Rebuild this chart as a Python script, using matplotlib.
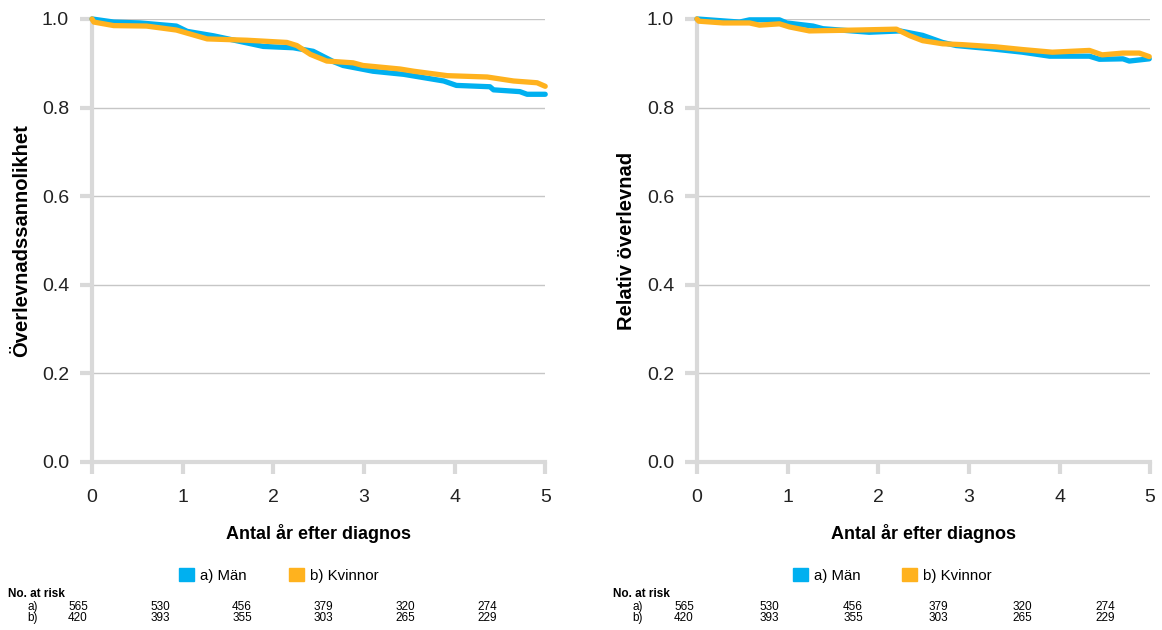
import numpy as np
import matplotlib
matplotlib.use("Agg")
import matplotlib.pyplot as plt
from matplotlib.patches import Patch

plt.rcParams["font.family"] = ["Liberation Sans", "DejaVu Sans"]

# === DATA ===
# left panel: Överlevnadssannolikhet
men_obs_t = [0, 0.24, 0.53, 0.93, 1.05, 1.34, 1.89, 2.22, 2.44, 2.66, 2.77, 3.1, 3.44, 3.88, 4.02, 4.39, 4.43, 4.72, 4.8, 5.0]
men_obs_s = [1.0, 0.993, 0.991, 0.984, 0.972, 0.962, 0.938, 0.935, 0.927, 0.904, 0.895, 0.882, 0.875, 0.86, 0.85, 0.847, 0.84, 0.836, 0.83, 0.83]
wom_obs_t = [0, 0.02, 0.24, 0.6, 0.93, 1.27, 1.71, 2.15, 2.26, 2.41, 2.59, 2.88, 2.99, 3.4, 3.55, 3.92, 4.36, 4.65, 4.91, 5.0]
wom_obs_s = [1.0, 0.993, 0.985, 0.984, 0.975, 0.955, 0.952, 0.947, 0.94, 0.92, 0.905, 0.901, 0.895, 0.887, 0.882, 0.872, 0.869, 0.86, 0.856, 0.848]

# right panel: Relativ överlevnad
men_rel_t = [0, 0.47, 0.58, 0.91, 0.99, 1.28, 1.39, 1.9, 2.24, 2.49, 2.71, 2.86, 3.23, 3.59, 3.89, 4.33, 4.44, 4.7, 4.77, 4.99]
men_rel_s = [1.0, 0.993, 0.998, 0.998, 0.991, 0.984, 0.978, 0.97, 0.973, 0.963, 0.947, 0.94, 0.933, 0.925, 0.916, 0.916, 0.909, 0.91, 0.905, 0.91]
wom_rel_t = [0, 0.02, 0.29, 0.58, 0.69, 0.91, 1.02, 1.24, 1.76, 2.2, 2.35, 2.49, 2.71, 2.93, 3.3, 3.59, 3.92, 4.33, 4.47, 4.7, 4.88, 4.99]
wom_rel_s = [1.0, 0.995, 0.991, 0.991, 0.986, 0.989, 0.982, 0.973, 0.975, 0.977, 0.962, 0.951, 0.944, 0.942, 0.937, 0.931, 0.925, 0.929, 0.919, 0.923, 0.923, 0.915]

# number at risk
risk_men = [565, 530, 456, 379, 320, 274]
risk_wom = [420, 393, 355, 303, 265, 229]

series_labels = ["a) Män", "b) Kvinnor"]
ylabels = ["Överlevnadssannolikhet", "Relativ överlevnad"]
xlabel = "Antal år efter diagnos"

BLUE = "#00B0F0"
ORANGE = "#FFB21E"
AXGREY = "#D9D9D9"
GRID = "#C6C6C6"

fig = plt.figure(figsize=(11.62, 6.3), dpi=100)

panels = [
    (0.0792, (men_obs_t, men_obs_s), (wom_obs_t, wom_obs_s), ylabels[0]),
    (0.5998, (men_rel_t, men_rel_s), (wom_rel_t, wom_rel_s), ylabels[1]),
]

for left, men, wom, ylab in panels:
    ax = fig.add_axes([left, 0.2667, 0.390, 0.7032])
    for yv in [0.2, 0.4, 0.6, 0.8, 1.0]:
        ax.axhline(yv, color=GRID, lw=1.0, zorder=1)
    ax.plot(men[0], men[1], color=BLUE, lw=3.8, solid_capstyle="round",
            solid_joinstyle="round", clip_on=False, zorder=3)
    ax.plot(wom[0], wom[1], color=ORANGE, lw=3.8, solid_capstyle="round",
            solid_joinstyle="round", clip_on=False, zorder=4)
    ax.set_xlim(0, 5)
    ax.set_ylim(0, 1.0)
    ax.set_xticks(range(6))
    ax.set_yticks([0, 0.2, 0.4, 0.6, 0.8, 1.0])
    ax.set_yticklabels(["0.0", "0.2", "0.4", "0.6", "0.8", "1.0"])
    for s in ["top", "right"]:
        ax.spines[s].set_visible(False)
    for s in ["left", "bottom"]:
        ax.spines[s].set_color(AXGREY)
        ax.spines[s].set_linewidth(3)
        ax.spines[s].set_zorder(2)
    ax.tick_params(axis="both", colors=AXGREY, width=3, length=8.5,
                   labelcolor="#222222", labelsize=14)
    ax.tick_params(axis="y", pad=8)
    ax.tick_params(axis="x", pad=11)
    ax.set_xlabel(xlabel, fontsize=13, fontweight="bold", labelpad=13)
    ax.set_ylabel(ylab, fontsize=14.5, fontweight="bold", labelpad=8)

    handles = [Patch(color=BLUE), Patch(color=ORANGE)]
    cx = 0.240 if left < 0.5 else 0.768
    fig.legend(handles, series_labels, loc="center", bbox_to_anchor=(cx, 0.087),
               ncol=2, frameon=False, fontsize=10.8, handlelength=1.0,
               handleheight=1.0, handletextpad=0.4, columnspacing=2.8)

# number at risk tables
for x0, row_lab_x, cols in [
    (8, 38, [78, 160, 242, 323, 405, 487]),
    (613, 643, [684, 769, 853, 938, 1022, 1105]),
]:
    fig.text(x0 / 1162, 1 - 594 / 630, "No. at risk", fontsize=8.5,
             fontweight="bold", va="center", ha="left")
    for lab, vals, yp in [("a)", risk_men, 607), ("b)", risk_wom, 618)]:
        fig.text(row_lab_x / 1162, 1 - yp / 630, lab, fontsize=8.5,
                 va="center", ha="right")
        for xc, v in zip(cols, vals):
            fig.text(xc / 1162, 1 - yp / 630, str(v), fontsize=8.5,
                     va="center", ha="center")

fig.savefig("out.png", dpi=100)
